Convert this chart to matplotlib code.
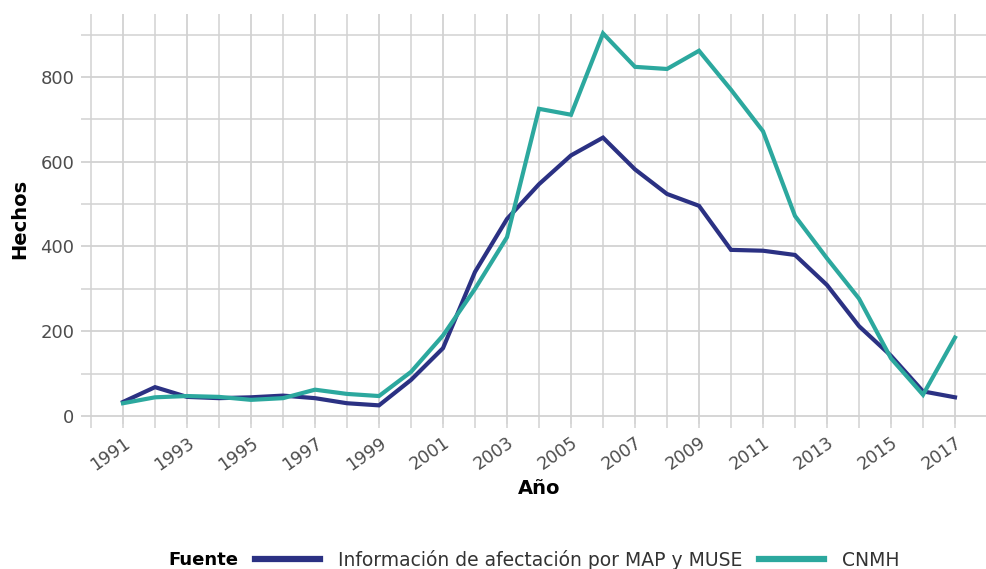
import matplotlib
matplotlib.use("Agg")
import matplotlib.pyplot as plt
from matplotlib.ticker import MultipleLocator

years = list(range(1991, 2018))
map_muse = [33, 68, 45, 42, 44, 48, 42, 30, 25, 85, 160, 340, 465, 547, 615, 657,
            582, 524, 496, 392, 390, 380, 309, 212, 142, 58, 44]
cnmh = [30, 44, 47, 45, 38, 42, 62, 52, 47, 104, 190, 300, 422, 725, 711, 903,
        824, 819, 862, 770, 672, 472, 372, 277, 136, 50, 185]
series_labels = ["Información de afectación por MAP y MUSE", "CNMH"]
legend_title = "Fuente"
x_label = "Año"
y_label = "Hechos"

col_dark = "#2b3183"
col_teal = "#2ca89e"
grid_col = "#d2d2d2"

W, H = 987, 569
fig = plt.figure(figsize=(W / 100, H / 100), dpi=100)
left, right = 81.4, 996.6
top, bottom = 13.9, 424.0
ax = fig.add_axes([left / W, (H - bottom) / H, (right - left) / W, (bottom - top) / H])

ax.plot(years, map_muse, color=col_dark, lw=3.0, solid_joinstyle="miter", zorder=3,
        label=series_labels[0])
ax.plot(years, cnmh, color=col_teal, lw=3.0, solid_joinstyle="miter", zorder=3,
        label=series_labels[1])

ax.set_xlim(1989.7, 2018.3)
ax.set_ylim(-19, 949)

ax.xaxis.set_major_locator(MultipleLocator(2, offset=1))
ax.xaxis.set_minor_locator(MultipleLocator(1))
ax.yaxis.set_major_locator(MultipleLocator(200))
ax.yaxis.set_minor_locator(MultipleLocator(100))

ax.grid(which="major", color=grid_col, lw=1.3)
ax.grid(which="minor", color=grid_col, lw=1.1)
ax.set_axisbelow(True)
for s in ax.spines.values():
    s.set_visible(False)

ax.tick_params(axis="y", which="both", length=0, pad=5, labelsize=13, labelcolor="#4d4d4d")
ax.tick_params(axis="x", which="both", length=3, width=1.1, color=grid_col, pad=4,
               labelsize=12.5, labelcolor="#4d4d4d")
for lab in ax.get_xticklabels():
    lab.set_rotation(35)
    lab.set_ha("right")
    lab.set_va("top")
    lab.set_rotation_mode("anchor")

ax.set_xlabel(x_label, fontsize=14, fontweight="bold", labelpad=4)
ax.set_ylabel(y_label, fontsize=14, fontweight="bold", labelpad=8)

handles, labels = ax.get_legend_handles_labels()
leg = fig.legend(handles, labels, loc="center left",
                 bbox_to_anchor=(255 / W, 1 - 560 / H), ncol=2, frameon=False,
                 fontsize=13.5, handlelength=3.47, handletextpad=0.96, columnspacing=0.9,
                 borderpad=0, borderaxespad=0)
for ln in leg.get_lines():
    ln.set_linewidth(4.5)
for t in leg.get_texts():
    t.set_color("#333333")
fig.text(238 / W, 1 - 560 / H, legend_title, ha="right", va="center", fontsize=13,
         fontweight="bold", color="black")

fig.savefig("out.png", dpi=100, facecolor="white")
